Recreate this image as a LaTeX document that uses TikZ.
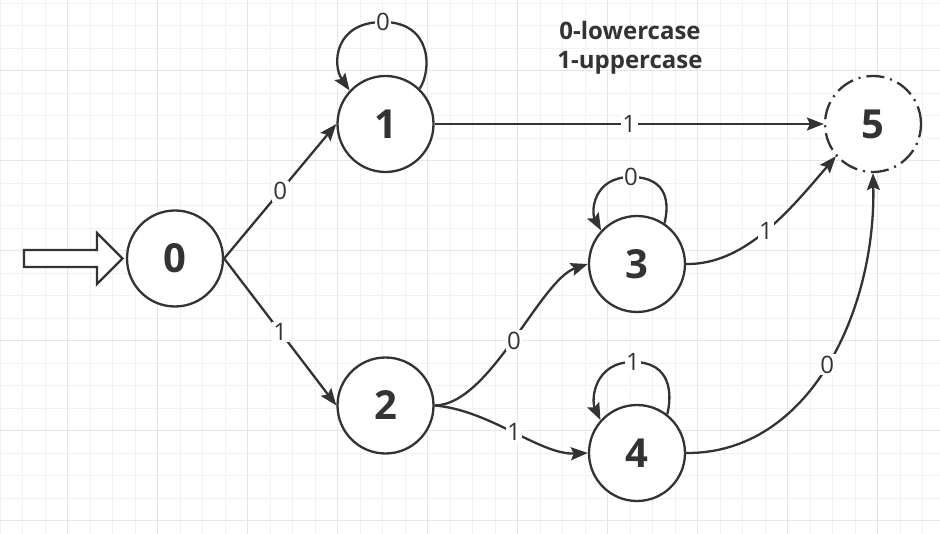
\documentclass[tikz,border=0pt]{standalone}
\usepackage{fontspec}
\setmainfont{Open Sans}
\usetikzlibrary{arrows.meta}
\definecolor{ink}{HTML}{333333}
\definecolor{gminor}{HTML}{F2F2F2}
\definecolor{gmajor}{HTML}{E6E6E6}
\tikzset{
  state/.style={circle, draw=ink, line width=2.3pt, fill=white, minimum size=96pt, inner sep=0pt,
    text=ink, font=\fontsize{40}{44}\selectfont\bfseries},
  finalstate/.style={state, dash pattern=on 18pt off 6pt on 2pt off 6pt},
  edge/.style={draw=ink, line width=2.3pt, -{Stealth[length=17pt,width=13pt,inset=3pt]}},
  lbl/.style={fill=white, inner sep=1.5pt, text=ink, font=\fontsize{24}{26}\selectfont},
  legend/.style={align=center, text=ink, font=\fontsize{24}{29}\selectfont\bfseries},
  gridminor/.style={draw=gminor, line width=1pt},
  gridmajor/.style={draw=gmajor, line width=1.3pt},
}
\begin{document}
\begin{tikzpicture}[x=1pt, y=-1pt]
\useasboundingbox (0,0) rectangle (940,534);
\fill[white] (0,0) rectangle (940,534);
% grid
\foreach \i in {0,...,41} \draw[gridminor] ({0.2+22.5*\i},0) -- ++(0,534);
\foreach \i in {0,...,23} \draw[gridminor] (0,{3.2+22.5*\i}) -- ++(940,0);
\foreach \i in {0,...,9} \draw[gridmajor] ({67.7+90*\i},0) -- ++(0,534);
\foreach \i in {0,...,5} \draw[gridmajor] (0,{70.7+90*\i}) -- ++(940,0);

% states
\node[state] (n0) at (175,258.5) {0};
\node[state] (n1) at (385.5,124) {1};
\node[state] (n2) at (385.5,405.5) {2};
\node[state] (n3) at (637,264) {3};
\node[state] (n4) at (637,453) {4};
\node[finalstate] (n5) at (873,124) {5};

% legend
\node[legend] (leg) at (630,48) {0-lowercase\\1-uppercase};

% start arrow
\draw[draw=ink, line width=2.3pt, fill=white, line join=miter]
  (24,250) -- (97,250) -- (97,233) -- (122.5,258.5) -- (97,284) -- (97,267) -- (24,267) -- cycle;

% transitions
\draw[edge] (n0.east) -- node[lbl]{0} (n1.west);
\draw[edge] (n0.east) -- node[lbl]{1} (n2.west);
\draw[edge] (n1.east) -- node[lbl]{1} (n5.west);
\draw[edge] (n2.east) .. controls (490,405) and (540,280) .. node[lbl]{0} (n3.west);
\draw[edge] (n2.east) .. controls (490,410) and (540,455) .. node[lbl]{1} (n4.west);
\draw[edge] (n3.east) .. controls (745,265) and (790,210) .. node[lbl]{1} (n5.221);
\draw[edge] (n4.east) .. controls (810,454) and (876,310) .. node[lbl]{0} (n5.south);

% self loops
\draw[edge] (n1.46) .. controls (432,70) and (432,22) .. (383,22) node[lbl]{0}
  .. controls (334,22) and (332,65) .. (n1.137);
\draw[edge] (n3.56) .. controls (669,205) and (669,177) .. (631,177) node[lbl]{0}
  .. controls (593,177) and (591,212) .. (n3.137);
\draw[edge] (n4.52) .. controls (672,395) and (672,362) .. (633,362) node[lbl]{1}
  .. controls (594,362) and (591,400) .. (n4.138);
\end{tikzpicture}
\end{document}
